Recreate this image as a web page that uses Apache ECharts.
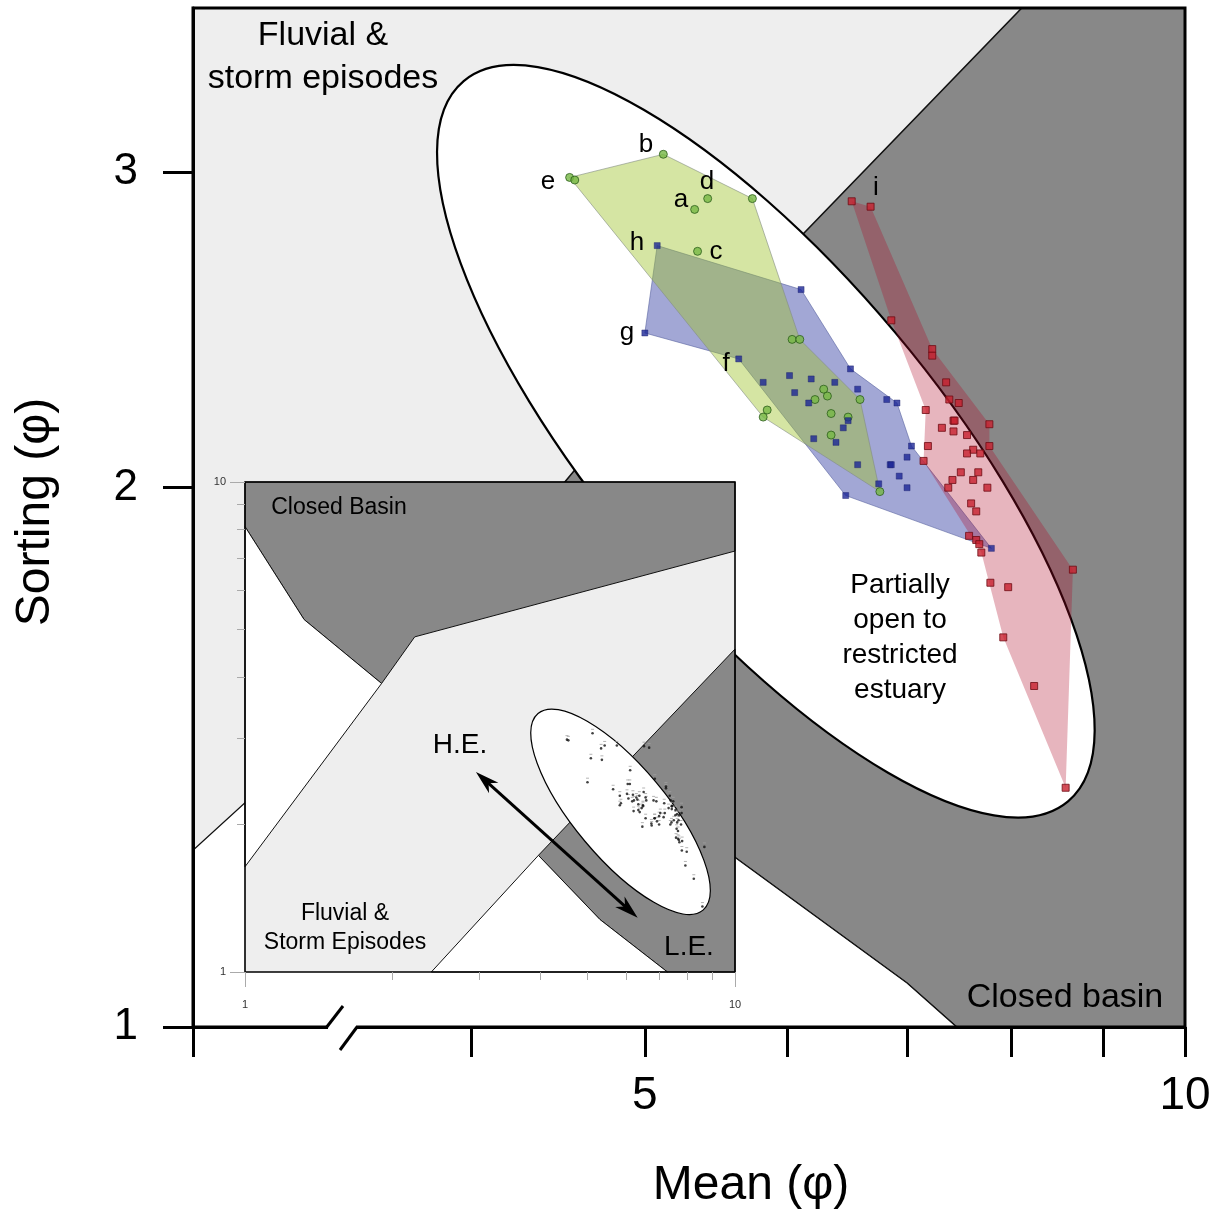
<!DOCTYPE html>
<html><head><meta charset="utf-8">
<script src="https://cdn.jsdelivr.net/npm/echarts@6.0.0/dist/echarts.min.js"></script>
<style>html,body{margin:0;padding:0;background:#fff}#c{width:1221px;height:1213px}</style>
</head><body><div id="c"></div>
<script>
// ---------------- DATA (Mean φ, Sorting φ) ----------------
const greenPts = [[4.54,2.98],[4.57,2.97],[5.12,3.07],[5.42,2.90],[5.33,2.86],[5.74,2.90],[5.35,2.71],[6.04,2.42],[6.10,2.42],[5.85,2.21],[5.82,2.19],[6.29,2.27],[6.32,2.25],[6.22,2.24],[6.59,2.24],[6.35,2.20],[6.49,2.19],[6.35,2.14],[6.76,1.99]];
const greenHull = [0,2,5,8,14,18,10];
const bluePts = [[5.08,2.73],[5.00,2.44],[6.11,2.58],[5.64,2.36],[5.82,2.29],[6.02,2.31],[6.19,2.30],[6.38,2.29],[6.51,2.33],[6.57,2.27],[6.06,2.26],[6.17,2.23],[6.82,2.24],[6.91,2.23],[6.49,2.18],[6.45,2.16],[6.39,2.12],[6.21,2.13],[7.04,2.11],[7.00,2.08],[6.85,2.06],[6.86,2.06],[6.93,2.03],[7.00,2.00],[6.57,2.06],[6.75,2.01],[6.47,1.98],[7.80,1.85]];
const blueHull = [0,2,8,13,18,27,26,3,1];
const redPts = [[6.52,2.89],[6.68,2.87],[6.86,2.48],[7.23,2.39],[7.23,2.37],[7.36,2.29],[7.39,2.24],[7.48,2.23],[7.17,2.21],[7.78,2.17],[7.43,2.18],[7.44,2.18],[7.32,2.16],[7.43,2.15],[7.56,2.14],[7.19,2.11],[7.62,2.10],[7.78,2.11],[7.56,2.09],[7.69,2.09],[7.15,2.07],[7.50,2.04],[7.67,2.04],[7.42,2.02],[7.62,2.02],[7.76,2.00],[7.38,2.00],[7.60,1.96],[7.65,1.94],[7.58,1.88],[7.65,1.87],[7.68,1.86],[7.70,1.84],[8.66,1.80],[7.79,1.77],[7.97,1.76],[7.92,1.65],[8.24,1.55],[8.58,1.36]];
const redHull = [0,1,3,9,17,33,38,36,32,20,8,2];

// environment fields of the main diagram
const mainClosedBasin = [[8.11,3.705],[10,3.705],[10,1],[7.46,1],[7.00,1.058],[5.61,1.244],[3.97,1.727],[4.57,2.046]];
const mainLowerWhite = [[2.80,1.255],[3.97,1.727],[5.61,1.244],[7.00,1.058],[7.46,1],[2.80,1]];
// estuary ellipse (centre in φ, semi-axes in log10 decades, tilt in degrees)
const ellipseCenter = [5.84, 2.123];
const ellipseSemiAxes = [0.262, 0.0943];
const ellipseTilt = -50;

// inset (full 1–10 diagram)
const insetClosedTop = [[1,10],[10,10],[10,7.23],[2.22,4.83],[1.90,3.88],[1.32,5.24],[1,8.11]];
const insetWhiteLeft = [[1,8.11],[1.32,5.24],[1.90,3.88],[1,1.64]];
const insetClosedLow = [[10,4.56],[3.97,1.73],[5.30,1.28],[7.28,1],[10,1]];
const insetWhiteLow = [[2.40,1],[3.97,1.73],[5.30,1.28],[7.28,1]];
const insetArrow = [[2.96,2.56],[6.33,1.29]];

// axes
const X_MIN = 2.8, X_MAX = 10, Y_MIN = 1, Y_MAX = 3.705;
const xTickValues = [2.8,4,5,6,7,8,9,10];
const xLabelValues = [5,10];
const yTickValues = [1,2,3];
const insetMajor = [1,10];
const insetMinor = [2,3,4,5,6,7,8,9];

// ---------------- CHART ----------------
const FONT = '"Liberation Sans", Arial, Helvetica, sans-serif';
const L = v => Math.log10(v);
const fmt = v => String(Math.round(Math.pow(10, v)));
const chart = echarts.init(document.getElementById('c'), null, {renderer:'canvas', width:1221, height:1213});

function poly(pts, ax, style, z) {
  return {type:'custom', xAxisIndex:ax, yAxisIndex:ax, z, silent:true,
    data:[ax===0 ? [L(5),L(2)] : [0.5,0.5]],
    renderItem:(p, api) => ({type:'polygon', shape:{points: pts.map(d => api.coord([L(d[0]), L(d[1])]))}, style})};
}
function ellipseSeries(ax, style, z) {
  return {type:'custom', xAxisIndex:ax, yAxisIndex:ax, z, silent:true,
    data:[ax===0 ? [L(5),L(2)] : [0.5,0.5]],
    renderItem:(p, api) => {
      const c = api.coord([L(ellipseCenter[0]), L(ellipseCenter[1])]);
      const s = api.size([ellipseSemiAxes[0], ellipseSemiAxes[1]]);
      return {type:'ellipse', x:c[0], y:c[1], rotation: ellipseTilt*Math.PI/180,
        shape:{cx:0, cy:0, rx:s[0], ry:s[1]}, style};
    }};
}
function frameSeries(ax, x0, x1, y0, y1, lw, z) {
  return {type:'custom', xAxisIndex:ax, yAxisIndex:ax, z, silent:true,
    data:[ax===0 ? [L(5),L(2)] : [0.5,0.5]],
    renderItem:(p, api) => {
      const a = api.coord([L(x0), L(y1)]), b = api.coord([L(x1), L(y0)]);
      return {type:'rect', shape:{x:a[0], y:a[1], width:b[0]-a[0], height:b[1]-a[1]},
        style:{fill:'none', stroke:'#000', lineWidth:lw}};
    }};
}
const hull = (pts, idx) => idx.map(i => pts[i]);
const toXY = arr => arr.map(p => [L(p[0]), L(p[1])]);

const arrowSeries = {type:'custom', xAxisIndex:1, yAxisIndex:1, z:11, silent:true, data:[[0.5,0.5]],
  renderItem:(p, api) => {
    const a = api.coord([L(insetArrow[0][0]), L(insetArrow[0][1])]);
    const b = api.coord([L(insetArrow[1][0]), L(insetArrow[1][1])]);
    const dx = b[0]-a[0], dy = b[1]-a[1], len = Math.hypot(dx, dy);
    const ux = dx/len, uy = dy/len, nx = -uy, ny = ux;
    const hl = 24, hw = 7, inner = 17;
    const head = (t, s) => [t, [t[0]-s*ux*hl+nx*hw, t[1]-s*uy*hl+ny*hw], [t[0]-s*ux*inner, t[1]-s*uy*inner], [t[0]-s*ux*hl-nx*hw, t[1]-s*uy*hl-ny*hw]];
    return {type:'group', children:[
      {type:'line', shape:{x1:a[0]+ux*14, y1:a[1]+uy*14, x2:b[0]-ux*14, y2:b[1]-uy*14}, style:{stroke:'#000', lineWidth:3}},
      {type:'polygon', shape:{points:head(b, 1)}, style:{fill:'#000'}},
      {type:'polygon', shape:{points:head(a, -1)}, style:{fill:'#000'}}
    ]};
  }};

const LIGHT = '#eeeeee', DARK = '#888888';
const allPts = [...greenPts, ...bluePts, ...redPts];
const series = [
  poly(mainClosedBasin, 0, {fill:DARK, stroke:'#111', lineWidth:1.6}, 1),
  poly(mainLowerWhite, 0, {fill:'#ffffff', stroke:'#111', lineWidth:1.2}, 1),
  ellipseSeries(0, {fill:'#ffffff', stroke:'#000', lineWidth:2.2}, 1),
  poly(hull(bluePts, blueHull), 0, {fill:'rgba(40,52,158,0.43)', stroke:'rgba(90,100,160,0.6)', lineWidth:1}, 2),
  poly(hull(greenPts, greenHull), 0, {fill:'rgba(160,195,45,0.44)', stroke:'rgba(130,140,130,0.6)', lineWidth:1}, 2),
  poly(hull(redPts, redHull), 0, {fill:'rgba(175,10,40,0.30)'}, 2),
  {type:'scatter', xAxisIndex:0, yAxisIndex:0, z:3, silent:true, data:toXY(redPts), symbol:'rect', symbolSize:7,
    itemStyle:{color:'#c8202e', borderColor:'#6e0c14', borderWidth:1}},
  {type:'scatter', xAxisIndex:0, yAxisIndex:0, z:3, silent:true, data:toXY(greenPts), symbol:'circle', symbolSize:8,
    itemStyle:{color:'#76b843', borderColor:'#2c5e1c', borderWidth:1}},
  {type:'scatter', xAxisIndex:0, yAxisIndex:0, z:3, silent:true, data:toXY(bluePts), symbol:'rect', symbolSize:6,
    itemStyle:{color:'#1d2796', borderColor:'#141a66', borderWidth:0.5}},
  frameSeries(0, X_MIN, X_MAX, Y_MIN, Y_MAX, 3, 4),
  // inset
  poly([[1,1],[10,1],[10,10],[1,10]], 1, {fill:LIGHT}, 10),
  poly(insetClosedTop, 1, {fill:DARK, stroke:'#111', lineWidth:1}, 10),
  poly(insetWhiteLeft, 1, {fill:'#ffffff', stroke:'#111', lineWidth:1}, 10),
  poly(insetClosedLow, 1, {fill:DARK, stroke:'#111', lineWidth:1}, 10),
  poly(insetWhiteLow, 1, {fill:'#ffffff', stroke:'#111', lineWidth:1}, 10),
  ellipseSeries(1, {fill:'#ffffff', stroke:'#000', lineWidth:1.2}, 10),
  {type:'scatter', xAxisIndex:1, yAxisIndex:1, z:11, silent:true, data:toXY(allPts),
    symbol:'rect', symbolSize:[3,1], symbolOffset:[0,-4], itemStyle:{color:'#a0a0a0'}},
  {type:'scatter', xAxisIndex:1, yAxisIndex:1, z:11, silent:true, data:toXY(allPts),
    symbol:'circle', symbolSize:2.6, itemStyle:{color:'#111'}},
  arrowSeries,
  frameSeries(1, 1, 10, 1, 10, 1.6, 12)
];

function mkAxisMain(isX) {
  return {
    gridIndex:0, type:'value', position: isX ? 'bottom' : 'left', z:5,
    min: isX ? L(X_MIN) : L(Y_MIN), max: isX ? L(X_MAX) : L(Y_MAX),
    axisLine:{show:true, onZero:false, lineStyle:{color:'#000', width:3}},
    axisTick:{show:true, inside:false, customValues:(isX ? xTickValues : yTickValues).map(L), length:30, lineStyle:{color:'#000', width:3}},
    axisLabel:{show:true, customValues:(isX ? xLabelValues : yTickValues).map(L), formatter:fmt,
      fontSize: isX ? 46 : 44, margin: isX ? 46 : 55, color:'#000', fontFamily:FONT},
    splitLine:{show:false}, minorTick:{show:false}
  };
}
function mkAxisInset(isX, major) {
  return {
    gridIndex:1, type:'value', position: isX ? 'bottom' : 'left', z:14, min:0, max:1,
    axisLine:{show:false, onZero:false},
    axisTick:{show:true, inside:false, customValues:(major ? insetMajor : insetMinor).map(L), length: major ? 15 : 8, lineStyle:{color:'#aaaaaa', width:1}},
    axisLabel: major ? {show:true, customValues:insetMajor.map(L), formatter:fmt, fontSize:11, margin: isX ? 27 : 19, color:'#333', fontFamily:FONT} : {show:false},
    splitLine:{show:false}, minorTick:{show:false}
  };
}

function txt(text, x, y, size, extra) {
  const st = Object.assign({text, font: size + 'px ' + FONT, fill:'#000', align:'center', verticalAlign:'middle', textAlign:'center', textVerticalAlign:'middle'}, extra || {});
  return {type:'text', x, y, z:100, silent:true, style:st};
}

const graphics = [
  txt('Fluvial &\nstorm episodes', 323, 57, 34, {lineHeight:43}),
  txt('e', 548, 182, 26), txt('b', 646, 145, 26), txt('d', 707, 182, 26), txt('a', 681, 200, 26),
  txt('h', 637, 243, 26), txt('c', 716, 252, 26), txt('g', 627, 333, 26), txt('f', 726, 364, 26), txt('i', 876, 188, 26),
  txt('Partially\nopen to\nrestricted\nestuary', 900, 638, 28, {lineHeight:35}),
  txt('Closed basin', 1065, 998, 34),
  txt('Closed Basin', 339, 508, 23),
  txt('H.E.', 460, 745, 28), txt('L.E.', 689, 947, 28),
  txt('Fluvial &\nStorm Episodes', 345, 928, 23, {lineHeight:29}),
  txt('Mean (φ)', 751, 1186, 48),
  Object.assign(txt('Sorting (φ)', 36, 512, 48), {rotation: Math.PI/2}),
  // axis break marks
  {type:'rect', z:100, silent:true, shape:{x:328, y:1023, width:28, height:9}, style:{fill:'#ffffff'}},
  {type:'line', z:101, silent:true, shape:{x1:326, y1:1028, x2:343, y2:1006}, style:{stroke:'#000', lineWidth:3}},
  {type:'line', z:101, silent:true, shape:{x1:340, y1:1050, x2:357, y2:1027}, style:{stroke:'#000', lineWidth:3}}
];

chart.setOption({
  animation:false,
  backgroundColor:'#ffffff',
  grid:[
    {left:193, top:8, right:36, bottom:186, show:true, backgroundColor:LIGHT, borderWidth:0, outerBoundsMode:'none', containLabel:false},
    {left:245, top:482, width:490, height:490, show:false, outerBoundsMode:'none', containLabel:false}
  ],
  xAxis:[mkAxisMain(true), mkAxisInset(true, true), mkAxisInset(true, false)],
  yAxis:[mkAxisMain(false), mkAxisInset(false, true), mkAxisInset(false, false)],
  series,
  graphic:{elements:graphics}
});
</script></body></html>
